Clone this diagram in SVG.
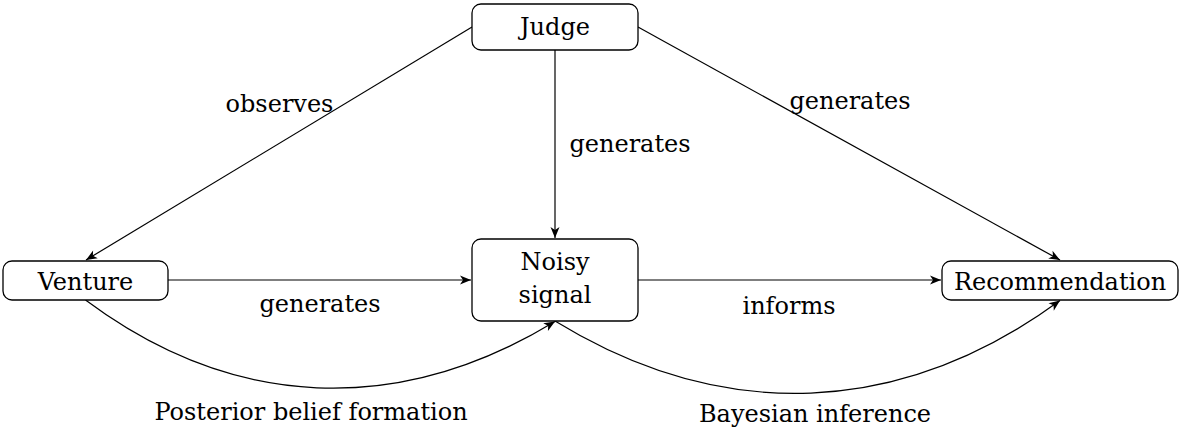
<svg xmlns="http://www.w3.org/2000/svg" width="1180" height="432" viewBox="0 0 1180 432">
<style>
.box{fill:#fff;stroke:#000;stroke-width:1.3}
.t{font-family:'DejaVu Serif',serif;font-size:24px;fill:#000;text-anchor:middle}
.e{fill:none;stroke:#000;stroke-width:1.2;marker-end:url(#ah)}
</style>
<defs>
<marker id="ah" markerUnits="userSpaceOnUse" markerWidth="14" markerHeight="12" viewBox="-12 -6 14 12" refX="0" refY="0" orient="auto">
<path d="M0,0 L-11,-4.5 L-8,0 L-11,4.5 Z" fill="#000"/>
</marker>
</defs>
<rect width="1180" height="432" fill="#fff"/>
<g id="connectors">
<path class="e" d="M472,27 L86,260"/>
<path class="e" d="M555,50 L555,238"/>
<path class="e" d="M638,27 L1060,260"/>
<path class="e" d="M168,280 L471,280"/>
<path class="e" d="M638,280 L941,280"/>
<path class="e" d="M85.5,300 C233,410 398,417 555,321.5"/>
<path class="e" d="M555,321 C723,424 901,417 1060,300.5"/>
<text class="t" x="279.5" y="112">observes</text>
<text class="t" x="630" y="152">generates</text>
<text class="t" x="850" y="109">generates</text>
<text class="t" x="320" y="312">generates</text>
<text class="t" x="789" y="314">informs</text>
<text class="t" x="311" y="420">Posterior belief formation</text>
<text class="t" x="815" y="422">Bayesian inference</text>
</g>
<g id="judge">
<rect class="box" x="472" y="4" width="166" height="46" rx="9"/>
<text class="t" x="555" y="35">Judge</text>
</g>
<g id="venture">
<rect class="box" x="3" y="261" width="165" height="39" rx="9"/>
<text class="t" x="85.5" y="290">Venture</text>
</g>
<g id="noisy-signal">
<rect class="box" x="472" y="239" width="166" height="82" rx="9"/>
<text class="t" x="555" y="270">Noisy</text>
<text class="t" x="555" y="303">signal</text>
</g>
<g id="recommendation">
<rect class="box" x="942" y="261" width="236" height="39" rx="9"/>
<text class="t" x="1060" y="290">Recommendation</text>
</g>
</svg>
